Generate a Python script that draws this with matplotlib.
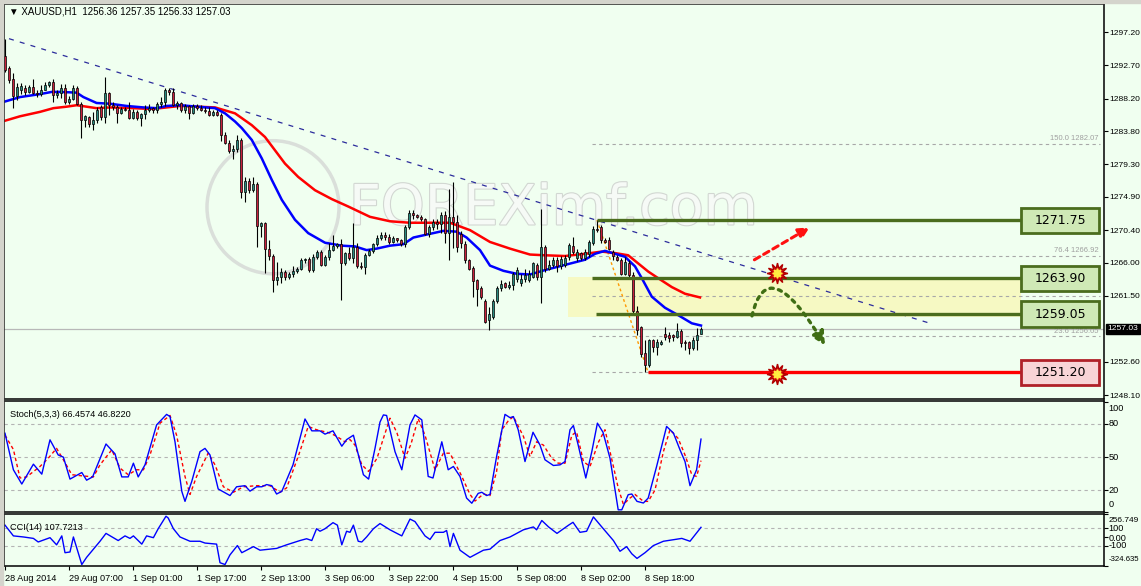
import matplotlib
matplotlib.use("Agg")
import matplotlib.pyplot as plt
import matplotlib.patheffects as pe
from matplotlib.patches import Rectangle, Ellipse, FancyArrowPatch
from matplotlib.path import Path
from matplotlib.transforms import blended_transform_factory
import numpy as np

plt.rcParams["font.family"] = ["Liberation Sans", "DejaVu Sans"]

# XAUUSD H1 candles, 28 Aug 2014 .. 8 Sep 2014
opens = [
    1294.0, 1292.3, 1290.8, 1288.5, 1289.4, 1289.6, 1289.1, 1289.8, 1289.0, 1288.8,
    1289.4, 1290.1, 1290.5, 1288.7, 1288.9, 1289.6, 1287.8, 1288.2, 1289.6, 1287.5,
    1285.3, 1285.7, 1284.7, 1285.3, 1287.0, 1285.7, 1288.9, 1287.3, 1287.0, 1286.3,
    1286.8, 1286.6, 1285.6, 1286.4, 1285.6, 1286.1, 1286.7, 1286.9, 1286.6, 1287.5,
    1287.7, 1289.3, 1289.1, 1287.3, 1287.6, 1286.6, 1287.2, 1286.3, 1287.2, 1286.9,
    1286.7, 1286.5, 1286.0, 1286.4, 1286.0, 1283.3, 1282.2, 1281.1, 1281.4, 1282.6,
    1275.6, 1277.0, 1275.8, 1276.6, 1270.9, 1271.3, 1267.8, 1266.9, 1263.6, 1264.1,
    1264.8, 1264.1, 1264.5, 1264.9, 1265.1, 1266.3, 1266.5, 1265.0, 1266.8, 1267.5,
    1265.7, 1266.8, 1267.7, 1268.3, 1268.5, 1266.0, 1267.3, 1266.6, 1268.1, 1265.6,
    1265.4, 1267.1, 1267.6, 1268.5, 1269.4, 1269.8, 1269.5, 1268.8, 1269.3, 1269.1,
    1268.5, 1270.8, 1272.7, 1272.4, 1272.2, 1271.9, 1269.9, 1270.8, 1271.5, 1271.2,
    1272.4, 1270.0, 1272.2, 1271.5, 1269.9, 1268.5, 1266.3, 1265.3, 1263.6, 1262.6,
    1260.8, 1258.2, 1258.7, 1260.8, 1262.6, 1263.2, 1262.7, 1263.0, 1263.8, 1263.2,
    1263.8, 1263.6, 1264.1, 1265.7, 1264.1, 1268.1, 1265.2, 1265.7, 1266.4, 1265.6,
    1265.7, 1266.8, 1268.2, 1266.7, 1267.3, 1266.6, 1267.2, 1268.6, 1270.6, 1270.8,
    1269.1, 1269.1, 1267.5, 1266.8, 1266.4, 1264.5, 1266.0, 1264.4, 1259.4, 1257.3,
    1253.8, 1252.1, 1255.6, 1254.6, 1255.0, 1256.3, 1256.2, 1256.2, 1256.0, 1256.8,
    1255.3, 1255.3, 1254.4, 1255.5, 1256.36]
highs = [
    1296.3, 1292.6, 1291.6, 1290.3, 1290.3, 1290.0, 1290.0, 1290.8, 1289.4, 1290.0,
    1290.5, 1290.6, 1290.8, 1289.3, 1290.2, 1290.2, 1288.6, 1290.0, 1289.9, 1287.7,
    1286.0, 1285.9, 1286.4, 1287.0, 1287.3, 1291.1, 1289.1, 1287.8, 1287.3, 1287.1,
    1287.1, 1287.8, 1286.8, 1286.7, 1286.3, 1287.3, 1287.4, 1287.1, 1287.7, 1288.4,
    1289.6, 1289.6, 1289.6, 1287.9, 1287.8, 1287.5, 1287.3, 1287.4, 1287.5, 1287.3,
    1287.0, 1287.1, 1286.7, 1286.6, 1286.2, 1283.7, 1282.6, 1281.9, 1283.3, 1282.8,
    1277.6, 1277.4, 1277.6, 1276.9, 1271.5, 1271.5, 1269.1, 1267.2, 1266.1, 1265.3,
    1265.0, 1264.8, 1265.6, 1265.4, 1266.6, 1266.7, 1266.8, 1267.2, 1267.7, 1267.7,
    1267.0, 1268.6, 1269.7, 1268.6, 1269.2, 1267.5, 1268.1, 1271.3, 1268.6, 1266.1,
    1267.3, 1267.9, 1268.7, 1269.7, 1270.2, 1270.2, 1269.9, 1269.6, 1269.4, 1269.2,
    1271.1, 1273.1, 1273.1, 1272.6, 1272.5, 1272.0, 1271.1, 1271.9, 1271.9, 1272.8,
    1273.0, 1275.9, 1276.9, 1272.4, 1270.3, 1268.9, 1266.5, 1265.6, 1263.8, 1262.9,
    1261.1, 1260.0, 1261.1, 1262.9, 1263.6, 1263.4, 1263.5, 1264.7, 1265.4, 1264.5,
    1265.2, 1265.0, 1266.1, 1265.9, 1273.3, 1268.4, 1266.3, 1266.8, 1266.8, 1266.9,
    1267.0, 1268.6, 1269.5, 1267.8, 1267.5, 1267.8, 1269.0, 1270.9, 1271.75, 1271.1,
    1269.4, 1269.5, 1267.7, 1267.1, 1266.6, 1266.8, 1266.3, 1264.8, 1260.1, 1257.5,
    1255.5, 1255.7, 1255.7, 1255.7, 1255.5, 1257.3, 1256.6, 1256.4, 1257.8, 1257.0,
    1255.5, 1255.4, 1256.0, 1257.1, 1257.35]
lows = [
    1291.8, 1290.3, 1286.9, 1288.0, 1288.8, 1288.7, 1288.9, 1288.8, 1288.4, 1288.6,
    1289.3, 1289.8, 1287.8, 1288.3, 1288.3, 1287.5, 1287.5, 1288.0, 1287.3, 1282.9,
    1284.3, 1284.4, 1283.9, 1284.9, 1285.3, 1284.9, 1286.0, 1286.6, 1284.9, 1286.1,
    1286.5, 1285.4, 1285.4, 1285.3, 1284.5, 1285.5, 1286.4, 1286.2, 1286.3, 1287.0,
    1287.2, 1288.7, 1287.2, 1286.8, 1286.4, 1286.3, 1285.5, 1286.1, 1286.7, 1286.5,
    1286.2, 1285.8, 1285.9, 1285.8, 1282.4, 1282.0, 1280.9, 1280.0, 1281.0, 1274.8,
    1274.2, 1275.4, 1275.6, 1268.1, 1269.5, 1264.6, 1266.4, 1262.1, 1263.0, 1263.2,
    1263.6, 1263.8, 1264.1, 1264.6, 1265.0, 1266.0, 1264.8, 1264.8, 1266.5, 1265.5,
    1265.5, 1266.3, 1267.6, 1268.0, 1260.9, 1265.7, 1266.3, 1265.9, 1265.3, 1265.1,
    1264.5, 1266.9, 1267.3, 1268.2, 1269.0, 1269.0, 1268.5, 1268.6, 1268.8, 1268.3,
    1268.1, 1270.6, 1271.9, 1272.0, 1271.7, 1269.7, 1269.5, 1270.4, 1270.6, 1270.0,
    1268.6, 1266.3, 1268.0, 1267.4, 1268.0, 1266.0, 1265.0, 1261.4, 1260.2, 1261.1,
    1257.8, 1256.9, 1258.4, 1260.5, 1262.2, 1262.6, 1262.5, 1262.3, 1263.4, 1262.9,
    1263.4, 1263.4, 1263.9, 1263.6, 1260.5, 1264.8, 1265.0, 1265.4, 1264.8, 1265.2,
    1265.4, 1266.4, 1267.2, 1266.2, 1266.4, 1266.4, 1266.8, 1268.4, 1270.2, 1268.6,
    1268.6, 1267.7, 1266.4, 1266.2, 1264.3, 1264.3, 1264.1, 1259.1, 1256.2, 1253.3,
    1251.2, 1251.9, 1253.9, 1253.5, 1254.8, 1255.5, 1255.3, 1255.4, 1255.8, 1254.6,
    1254.2, 1253.7, 1254.2, 1254.2, 1256.33]
closes = [
    1292.0, 1290.7, 1288.5, 1289.8, 1289.9, 1289.1, 1289.8, 1289.0, 1288.8, 1289.4,
    1290.1, 1290.5, 1288.7, 1288.9, 1289.6, 1287.8, 1288.2, 1289.6, 1287.5, 1285.3,
    1285.8, 1284.7, 1285.3, 1286.7, 1285.7, 1288.9, 1287.3, 1287.0, 1286.3, 1286.8,
    1286.6, 1285.6, 1286.4, 1285.6, 1286.1, 1286.7, 1286.9, 1286.6, 1287.5, 1287.7,
    1289.3, 1289.1, 1287.3, 1287.6, 1286.6, 1287.2, 1286.3, 1287.2, 1286.9, 1286.7,
    1286.5, 1286.0, 1286.4, 1286.0, 1283.3, 1282.2, 1281.1, 1281.4, 1282.6, 1275.6,
    1277.0, 1275.8, 1276.6, 1270.9, 1271.3, 1267.8, 1266.9, 1263.6, 1264.1, 1264.8,
    1264.1, 1264.5, 1264.9, 1265.1, 1266.3, 1266.5, 1265.0, 1266.8, 1267.5, 1265.7,
    1266.8, 1267.7, 1268.3, 1268.5, 1266.0, 1267.3, 1266.6, 1268.1, 1265.6, 1265.4,
    1267.1, 1267.6, 1268.5, 1269.4, 1269.8, 1269.5, 1268.8, 1269.3, 1269.1, 1268.5,
    1270.8, 1272.7, 1272.4, 1272.2, 1271.9, 1269.9, 1270.8, 1271.5, 1271.2, 1272.4,
    1270.0, 1272.2, 1271.5, 1268.1, 1268.6, 1266.3, 1265.2, 1263.5, 1262.5, 1261.4,
    1258.0, 1259.1, 1260.8, 1262.6, 1263.1, 1262.7, 1263.0, 1264.5, 1265.0, 1263.8,
    1264.4, 1264.5, 1265.9, 1264.1, 1268.1, 1265.2, 1265.7, 1266.4, 1265.6, 1266.5,
    1266.7, 1268.4, 1267.5, 1267.5, 1266.7, 1267.5, 1268.8, 1270.6, 1270.4, 1269.1,
    1268.8, 1267.9, 1266.9, 1266.4, 1264.5, 1266.1, 1264.4, 1259.4, 1256.9, 1253.7,
    1252.1, 1255.6, 1254.6, 1255.3, 1255.3, 1256.0, 1255.8, 1255.9, 1256.8, 1255.1,
    1255.1, 1254.4, 1255.5, 1256.2, 1257.03]

# moving averages (blue fast, red slow), sampled along the curve
ma_fast_bars = [0, 3.75, 8.75, 11.7, 13.75, 17.9, 19.6, 22.9, 26.25, 30.4, 34.6, 37.9, 40.4, 43.75,
                52.5, 55, 57.5, 59.2, 61.7, 64.2, 66.7, 69.2, 72.5, 75.8, 80, 84.2, 87.5, 90.4,
                92.9, 96.25, 99.6, 102.1, 105.4, 109.6, 112.9, 115.4, 118.75, 121.25, 124.6, 127.9,
                131.25, 135, 140, 145, 147.5, 150, 152.5, 155, 157.5, 159.2, 161.7, 165, 168.3,
                171.7, 174]
ma_fast_vals = [1287.8, 1288.4, 1288.8, 1289.1, 1289.1, 1289.0, 1288.4, 1287.6, 1287.5, 1287.2,
                1287.0, 1286.9, 1287.2, 1287.3, 1286.9, 1286.2, 1285.1, 1284.2, 1282.6, 1280.1,
                1277.2, 1274.5, 1271.8, 1270.0, 1268.7, 1268.3, 1268.2, 1267.7, 1267.9, 1268.3,
                1268.5, 1269.4, 1269.8, 1270.3, 1270.2, 1269.4, 1267.7, 1265.6, 1264.9, 1264.5,
                1264.4, 1265.0, 1265.7, 1266.4, 1267.2, 1267.6, 1267.2, 1266.8, 1265.5, 1263.9,
                1261.4, 1259.9, 1258.9, 1257.8, 1257.5]
ma_slow_bars = [0, 3.75, 8.75, 12.1, 15.4, 17.9, 20.4, 22.9, 26.25, 32.1, 36.25, 38.75, 42.1, 43.75,
                52.5, 57.5, 61.7, 65, 67.5, 70, 73.3, 77.5, 81.7, 85.8, 91.25, 96.25, 101.25,
                106.25, 111.25, 116.25, 121.25, 126.25, 131.25, 135, 140, 145, 149.2, 152.5, 155.8,
                158.3, 160.8, 163.3, 166.7, 170, 173.75]
ma_slow_vals = [1285.2, 1285.8, 1286.4, 1286.9, 1287.1, 1287.3, 1287.1, 1286.9, 1287.0, 1286.9,
                1286.8, 1286.9, 1287.1, 1287.2, 1287.0, 1286.2, 1284.6, 1283.0, 1281.2, 1279.4,
                1277.6, 1275.8, 1274.6, 1273.6, 1272.2, 1271.6, 1271.4, 1271.4, 1271.4, 1270.4,
                1268.8, 1267.9, 1267.1, 1267.0, 1266.9, 1267.2, 1267.5, 1267.3, 1267.0, 1265.9,
                1264.8, 1263.9, 1262.7, 1261.8, 1261.3]

# Stochastic(5,3,3)
stoch_k_bars = [0, 2.1, 4.2, 7.1, 9.2, 11.25, 13.3, 14.6, 16.25, 19.2,
                20.4, 21.9, 25.25, 27.5, 29.2, 30.8, 32.1, 33.3, 35, 37.9,
                40.4, 41.25, 42.5, 44.2, 45, 46.7, 48.75, 50, 51.25, 53.3,
                56.25, 57.9, 60, 61.25, 62.9, 64.2, 65.4, 66.7, 67.9, 69.2,
                72, 75, 76.7, 78.75, 80, 82, 84.2, 85.4, 87.1, 89.6,
                90.9, 92.5, 93.75, 94.6, 95.4, 97.5, 99.2, 101.25, 102.5, 104.2,
                105.8, 107, 109.2, 110.8, 112.1, 113.75, 115.4, 116.7, 118.3, 119.2,
                120.4, 121.25, 122.9, 125, 126.25, 127.1, 128.3, 130, 132, 133.75,
                135, 137.1, 138.75, 140, 141.25, 142.1, 143.3, 145.2, 146.7, 148.1,
                149.5, 151.25, 153.3, 154.2, 155.8, 156.7, 158, 159.6, 160.8, 162.9,
                165.4, 167.1, 168.75, 170, 171.25, 172.9, 174]
stoch_k_vals = [71.8, 38.5, 25.5, 43.6, 34.5, 65.8, 52, 50, 30, 36,
                29, 32, 62, 53, 32, 32, 44.5, 32, 43, 79.4,
                89, 87, 64, 18.8, 9.7, 28, 55, 58, 52, 21,
                15, 23, 24, 19, 23, 23, 25, 24, 16.4, 18.8,
                43, 84.8, 74, 74, 71, 74, 60, 66, 70, 34,
                30, 58, 82, 88.5, 88, 55, 38.5, 79.4, 88.5, 84,
                32.4, 31, 64, 38.5, 41.5, 32.4, 12.7, 8, 17, 18,
                15, 16, 50.6, 89, 86, 87, 75, 46, 72.7, 61,
                47.6, 42.4, 43, 46, 75, 78.8, 61, 31, 55, 81,
                72.7, 49, 2, 2, 15.8, 16.4, 9.7, 8.2, 12.7, 41.5,
                78, 72, 56.7, 46, 24, 38.5, 66.46]
stoch_d_bars = [0, 2.1, 3.75, 5.4, 8.75, 10.8, 12.9, 14.6, 16.7, 19.2,
                22.1, 23.75, 26.7, 28.75, 30.8, 32.9, 34.6, 36.25, 38.75, 41.25,
                42.9, 45, 46.25, 47.9, 50.8, 52.5, 54.6, 57.1, 59.6, 62.9,
                66.25, 68.75, 70.4, 73.3, 75.8, 77.9, 81.25, 82.9, 85, 86.25,
                87.5, 89.2, 90.9, 93, 94.5, 96.25, 98, 100, 101.5, 103.3,
                105, 107.5, 109.6, 111.25, 114, 116.25, 117.5, 119.6, 121.25, 122.9,
                124.2, 125.8, 127.1, 129.6, 131.25, 132.9, 134.6, 136.7, 138.3, 140,
                141.7, 142.9, 144.6, 146.25, 148.4, 150, 152.1, 153.3, 154.6, 156.25,
                157.5, 159.6, 160.8, 162.5, 164.6, 166.25, 168.3, 170, 171.7, 172.9,
                174]
stoch_d_vals = [70, 57, 31, 32, 41.5, 49, 58, 47.6, 34, 33,
                32, 43, 56.7, 40, 34, 38.5, 38.5, 52, 81, 88,
                70, 32.4, 16, 32.4, 53.6, 43, 23, 18, 23, 24,
                24, 18, 22, 50.6, 78, 75, 72, 69, 64, 66,
                61, 43, 37, 49, 66, 85.5, 72, 49, 62, 85,
                70, 38.5, 53.6, 53.6, 34, 16, 10, 16.4, 15, 37,
                75, 83, 87, 69, 50.6, 64, 61, 49, 44.5, 44.5,
                70, 73, 46, 41.5, 64, 75, 41.5, 22, 7, 12.7,
                16, 9.7, 9.7, 20, 55, 75, 67, 52, 34, 32.4,
                46.82]

# CCI(14)
cci_bars = [0, 2.1, 4.6, 7.1, 8.3, 11.25, 12.9, 14.2, 15, 16.25,
            17.1, 19.2, 20.4, 23.75, 25.25, 28.3, 30, 31.25, 32.1, 34.2,
            35.4, 37.1, 38.3, 40.25, 40.8, 42.1, 43.75, 46.25, 48.75, 50,
            52.9, 53.75, 55, 56.25, 58.1, 59.2, 62.1, 63.75, 67.9, 70.4,
            73.75, 75.4, 76.7, 77.9, 78.75, 80, 82, 83.1, 84.2, 85.4,
            86.25, 87.1, 88.3, 89.2, 90.4, 92.1, 93.75, 96.25, 99.2, 101.25,
            102.5, 105, 106.25, 107.5, 109.6, 110.4, 111.25, 112.1, 113.75, 116.25,
            119.6, 121.25, 123.75, 126.25, 129.6, 132.1, 132.9, 134.2, 135.9, 138,
            139.25, 140.9, 142, 143.75, 145.4, 147.1, 149.2, 152.1, 153.75, 155.4,
            156.7, 158, 160, 162.1, 164.6, 167.5, 169.2, 171.25, 174]
cci_vals = [132, 12, 0, -16, -56, -8, -88, 12, -176, -168,
            0, -308, -228, -48, 40, -40, 12, -16, 12, -80,
            12, -8, 92, 232, 212, 92, 0, -48, -48, -68,
            -80, -288, -308, -200, -96, -176, -108, -148, -128, -88,
            -40, -20, -40, 92, 64, 92, 160, 132, -88, 64,
            52, 132, -48, -56, 0, 92, 150, 80, 12, 200,
            172, 12, -28, 52, 52, 72, -108, 40, -148, -228,
            -148, -136, -40, 0, 80, 112, 80, 184, 112, 40,
            80, 132, 164, 52, 64, 224, 112, -40, -160, -108,
            -188, -240, -176, -96, -48, -28, -16, -48, 107.72]

time_labels = ["28 Aug 2014", "29 Aug 07:00", "1 Sep 01:00", "1 Sep 17:00", "2 Sep 13:00",
               "3 Sep 06:00", "3 Sep 22:00", "4 Sep 15:00", "5 Sep 08:00", "8 Sep 02:00",
               "8 Sep 18:00"]
time_label_bars = [0, 16, 32, 48, 64, 80, 96, 112, 128, 144, 160]

price_ticks = [1297.20, 1292.70, 1288.20, 1283.80, 1279.30, 1274.90, 1270.40,
               1266.00, 1261.50, 1252.60, 1248.10]
last_price = 1257.03

# analysis drawn on the chart
resistance_levels = [1271.75, 1263.90, 1259.05]
resistance_start = [148, 146.75, 147.75]
support_level = 1251.20
support_start = 160.75
fib_levels = [1282.07, 1266.92, 1261.48, 1256.05, 1251.20]
fib_labels = ["150.0 1282.07", "76.4 1266.92", "", "23.6 1256.05", ""]
trend_bars = [1, 231.25]
trend_prices = [1296.3, 1257.8]
swing_bars = [148, 160.75]
swing_prices = [1271.75, 1251.20]
zone_low, zone_high = 1258.6, 1264.1

BG = "#f0fff0"
BULL = "#2b8a7e"
BEAR = "#c8203c"
LEVEL_GREEN = "#4b6d1e"
FS = 6.6
FS_AXIS = 6.1

W, H = 1141, 586


def rect(x0, y0, x1, y1):
    return [x0 / W, 1 - y1 / H, (x1 - x0) / W, (y1 - y0) / H]


fig = plt.figure(figsize=(W / 100, H / 100), dpi=100, facecolor=BG)
fig.patches.append(Rectangle((0, 1 - 3 / H), 1, 3 / H, transform=fig.transFigure,
                             color="#d4d4cc", zorder=0))
fig.patches.append(Rectangle((0, 0), 3 / W, 1, transform=fig.transFigure,
                             color="#d4d4cc", zorder=0))

ax = fig.add_axes(rect(4, 4, 1104, 399))
ax2 = fig.add_axes(rect(4, 401, 1104, 512))
ax3 = fig.add_axes(rect(4, 514, 1104, 566))
for a in (ax, ax2, ax3):
    a.set_facecolor(BG)
    a.set_xlim(-0.25, 274.75)
    for s in a.spines.values():
        s.set_linewidth(1.1)
        s.set_color("black")
    a.yaxis.tick_right()
    a.tick_params(axis="y", direction="out", length=3, width=0.8, pad=1, labelsize=FS_AXIS)
    a.tick_params(axis="x", bottom=False, labelbottom=False)

# ---- main price panel ----
ax.set_ylim(1247.56, 1300.99)
ax.set_yticks(price_ticks)
ax.set_yticklabels([f"{v:.2f}" for v in price_ticks])

# watermark
ax.add_patch(Ellipse((67, 1273.5), 33, 18, fill=False, ec="#dadfda", lw=2.5, zorder=0.5))
ax.text(86, 1273.2, "FOREXimf.com", fontsize=40, color="#f6faf6", va="center", ha="left",
        family="DejaVu Sans", zorder=0.6,
        path_effects=[pe.withStroke(linewidth=1.6, foreground="#d2d7d2")])

# support / resistance zone
ax.add_patch(Rectangle((140.75, zone_low), 254 - 140.75, zone_high - zone_low,
                       facecolor="#f8f8b8", edgecolor="none", alpha=0.8, zorder=1))

# fibonacci levels
for lv, lb in zip(fib_levels, fib_labels):
    ax.plot([146.75, 273.75], [lv, lv], color="#a8a8a8", lw=0.8, ls=(0, (3, 3)), zorder=1.2)
    if lb:
        ax.text(273.5, lv + 0.2, lb, fontsize=5.5, color="#a0a0a0", ha="right", va="bottom",
                zorder=1.3)
ax.plot(swing_bars, swing_prices, color="#ff9900", lw=1, ls=(0, (2, 2)), zorder=1.5)

# current price line
ax.axhline(last_price, color="#b8b8b8", lw=0.9, zorder=1.1)

# trend line
ax.plot(trend_bars, trend_prices, color="#2c2c9c", lw=0.9, ls=(0, (4, 5)), zorder=1.6)

# moving averages
ax.plot(ma_slow_bars, ma_slow_vals, color="#ff0000", lw=1.8, zorder=2)
ax.plot(ma_fast_bars, ma_fast_vals, color="#0000ff", lw=1.8, zorder=2.1)

# candles
x = np.arange(len(closes))
o = np.array(opens)
c = np.array(closes)
hi = np.array(highs)
lo = np.array(lows)
up = c >= o
ax.vlines(x, lo, hi, color="black", lw=0.8, zorder=3)
body_low = np.minimum(o, c)
body_h = np.maximum(np.abs(c - o), 0.12)
ax.bar(x[up], body_h[up], bottom=body_low[up], width=0.62, color=BULL,
       edgecolor="black", linewidth=0.5, zorder=4)
ax.bar(x[~up], body_h[~up], bottom=body_low[~up], width=0.62, color=BEAR,
       edgecolor="black", linewidth=0.5, zorder=4)

# levels + boxes
for lv, st in zip(resistance_levels, resistance_start):
    ax.plot([st, 254], [lv, lv], color=LEVEL_GREEN, lw=2.4, solid_capstyle="butt", zorder=5)
    ax.add_patch(Rectangle((254, lv - 1.7), 19.5, 3.4, facecolor="#cfe9b6",
                           edgecolor=LEVEL_GREEN, lw=2, zorder=6))
    ax.text(263.75, lv, f"{lv:.2f}", fontsize=9, family="DejaVu Sans", ha="center",
            va="center", zorder=7)
ax.plot([support_start, 254], [support_level, support_level], color="#ff0000", lw=2.4,
        solid_capstyle="butt", zorder=5)
ax.add_patch(Rectangle((254, support_level - 1.7), 19.5, 3.4, facecolor="#f8d4d6",
                       edgecolor="#b02028", lw=2, zorder=6))
ax.text(263.75, support_level, f"{support_level:.2f}", fontsize=9, family="DejaVu Sans",
        ha="center", va="center", zorder=7)

# scenario arrows
ax.annotate("", xy=(201.75, 1270.95), xytext=(186.75, 1266.2),
            arrowprops=dict(arrowstyle="-|>", color="#ff1010", lw=2.2, ls=(0, (2, 1.5)),
                            mutation_scale=16), zorder=8)
curve = Path([(186.75, 1258.8), (190.6, 1267.8), (205, 1254.8)],
             [Path.MOVETO, Path.CURVE3, Path.CURVE3])
ax.add_patch(FancyArrowPatch(path=curve, arrowstyle="-|>", mutation_scale=20,
                             color="#3f6e14", lw=2.4, ls=(0, (1, 1.6)), zorder=8))
for yy in (1264.6, 1250.95):
    ax.plot(193, yy, marker=(12, 1, 0), ms=15, color="#e01010", mec="#b00000", zorder=9)
    ax.plot(193, yy, marker=(8, 1, 0), ms=7, color="#ffee40", mec="#ffee40", zorder=10)

# current price tag
tr = blended_transform_factory(ax.transAxes, ax.transData)
ax.text(1.003, last_price, "1257.03", transform=tr, fontsize=FS_AXIS, color="white",
        va="center", ha="left", bbox=dict(boxstyle="square,pad=0.2", fc="black", ec="black"),
        clip_on=False, zorder=10)

fig.text(9 / W, 1 - 12 / H, "\u25bc XAUUSD,H1  1256.36 1257.35 1256.33 1257.03",
         fontsize=7, va="center", ha="left")

# ---- stochastic ----
ax2.set_ylim(0.27, 101.2)
for lv in (20, 50, 80):
    ax2.axhline(lv, color="#b4b4b4", lw=0.8, ls=(0, (3, 3)))
ax2.plot(stoch_d_bars, stoch_d_vals, color="#ff0000", lw=1, ls=(0, (2.5, 2)))
ax2.plot(stoch_k_bars, stoch_k_vals, color="#0000ff", lw=1)
ax2.set_yticks([0, 20, 50, 80, 100])
ax2.set_yticklabels([])
tr2 = blended_transform_factory(ax2.transAxes, ax2.transData)
for val, txt in zip([94.8, 80.8, 50, 20, 6.6], ["100", "80", "50", "20", "0"]):
    ax2.text(1.004, val, txt, transform=tr2, fontsize=FS, va="center", ha="left", clip_on=False)
ax2.text(0.005, 0.88, "Stoch(5,3,3) 66.4574 46.8220", transform=ax2.transAxes, fontsize=FS,
         va="center", ha="left")

# ---- CCI ----
ax3.set_ylim(-324.635, 256.749)
for lv in (100, -100):
    ax3.axhline(lv, color="#b4b4b4", lw=0.8, ls=(0, (3, 3)))
ax3.plot(cci_bars, cci_vals, color="#0000ff", lw=1)
ax3.set_yticks([256.749, 100, 0, -100, -324.635])
ax3.set_yticklabels([])
tr3 = blended_transform_factory(ax3.transAxes, ax3.transData)
for val, txt, fs in zip([178.5, 100.2, -11.6, -101, -246.4],
                        ["256.749", "100", "0.00", "-100", "-324.635"],
                        [6.0, FS, FS, FS, 5.6]):
    ax3.text(1.004, val, txt, transform=tr3, fontsize=fs, va="center", ha="left", clip_on=False)
ax3.text(0.005, 0.75, "CCI(14) 107.7213", transform=ax3.transAxes, fontsize=FS,
         va="center", ha="left")

ax3.tick_params(axis="x", bottom=True, labelbottom=True, direction="out", length=3,
                width=0.8, pad=3, labelsize=FS)
ax3.set_xticks(time_label_bars)
ax3.set_xticklabels(time_labels, ha="left")

fig.savefig("out.png", dpi=100, facecolor=BG)
